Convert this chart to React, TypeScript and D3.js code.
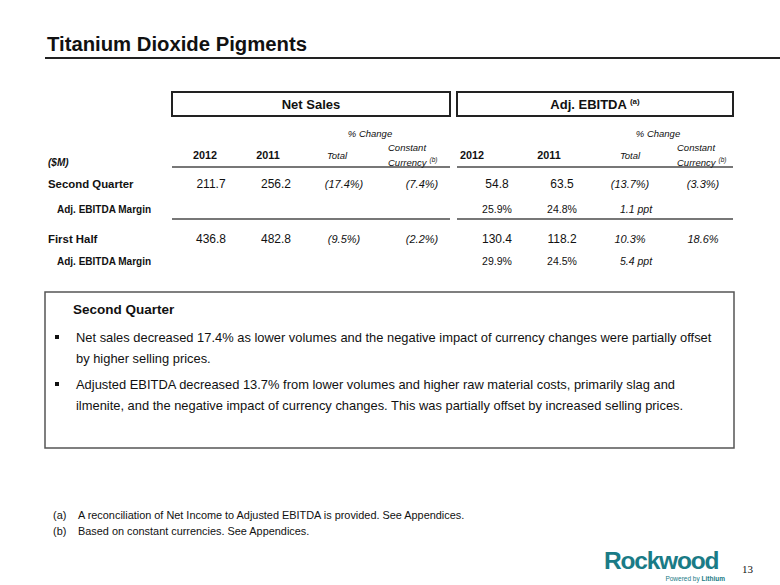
import React from "react";
import * as d3 from "d3";

const rowLabels = ["Second Quarter", "Adj. EBITDA Margin", "First Half", "Adj. EBITDA Margin"];
const rowKinds = ["main", "sub", "main", "sub"];
const netSales2012 = ["211.7", "", "436.8", ""];
const netSales2011 = ["256.2", "", "482.8", ""];
const netSalesTotal = ["(17.4%)", "", "(9.5%)", ""];
const netSalesConst = ["(7.4%)", "", "(2.2%)", ""];
const ebitda2012 = ["54.8", "25.9%", "130.4", "29.9%"];
const ebitda2011 = ["63.5", "24.8%", "118.2", "24.5%"];
const ebitdaTotal = ["(13.7%)", "1.1 ppt", "10.3%", "5.4 ppt"];
const ebitdaConst = ["(3.3%)", "", "18.6%", ""];

const bullets = [
  ["Net sales decreased 17.4% as lower volumes and the negative impact of currency changes were partially offset", "by higher selling prices."],
  ["Adjusted EBITDA decreased 13.7% from lower volumes and higher raw material costs, primarily slag and", "ilmenite, and the negative impact of currency changes.  This was partially offset by increased selling prices."],
];
const footnotes = [
  ["(a)", "A reconciliation of Net Income to Adjusted EBITDA is provided. See Appendices."],
  ["(b)", "Based on constant currencies. See Appendices."],
];

const FONT = "Liberation Sans, Arial, sans-serif";

export default function App() {
  const colKeys = ["ns2012", "ns2011", "nsTot", "nsCc", "eb2012", "eb2011", "ebTot", "ebCc"];
  const valueX = d3.scaleOrdinal<string, number>().domain(colKeys).range([211, 276, 344, 422, 497, 562, 630, 703]);
  const headX = d3.scaleOrdinal<string, number>().domain(colKeys).range([205, 268, 337, 388, 472, 549, 630, 677]);
  const rowYs = [188, 213, 243, 265];
  const cols: [string, string[]][] = [
    ["ns2012", netSales2012], ["ns2011", netSales2011], ["nsTot", netSalesTotal], ["nsCc", netSalesConst],
    ["eb2012", ebitda2012], ["eb2011", ebitda2011], ["ebTot", ebitdaTotal], ["ebCc", ebitdaConst],
  ];
  const italicCols = new Set(["nsTot", "nsCc", "ebTot", "ebCc"]);
  const groups = [
    { x0: 172, x1: 450, title: "Net Sales", sup: "" },
    { x0: 457, x1: 733, title: "Adj. EBITDA", sup: "(a)" },
  ];
  const bulletY = d3.scaleLinear().domain([0, 1]).range([342, 363]);
  const bulletGap = 47;

  return (
    <svg width={780} height={585} style={{ position: "absolute", left: 0, top: 0, background: "#fff" }} fontFamily={FONT}>
      <text x={47} y={51} fontSize={20.3} fontWeight="bold" fill="#111">Titanium Dioxide Pigments</text>
      <line x1={45} x2={780} y1={58} y2={58} stroke="#222" strokeWidth={2} />

      {groups.map((g, i) => (
        <g key={i}>
          <rect x={g.x0 + 1} y={93} width={g.x1 - g.x0} height={24} fill="#bbb" />
          <rect x={g.x0} y={92} width={g.x1 - g.x0} height={24} fill="#fff" stroke="#222" strokeWidth={2} />
          <text x={(g.x0 + g.x1) / 2} y={109} textAnchor="middle" fontSize={13} fontWeight="bold" fill="#111">
            {g.title}
            {g.sup && <tspan dx={3} dy={-5} fontSize={8}>{g.sup}</tspan>}
          </text>
          <line x1={g.x0} x2={g.x1} y1={167} y2={167} stroke="#777" strokeWidth={2} />
          <line x1={g.x0} x2={g.x1} y1={219} y2={219} stroke="#777" strokeWidth={2} />
        </g>
      ))}

      <text x={370} y={137} textAnchor="middle" fontSize={9.5} fontStyle="italic" fill="#111">% Change</text>
      <text x={658} y={137} textAnchor="middle" fontSize={9.5} fontStyle="italic" fill="#111">% Change</text>
      <text x={48} y={166} fontSize={10} fontWeight="bold" fontStyle="italic" fill="#111">($M)</text>
      {[["ns2012", "2012"], ["ns2011", "2011"], ["eb2012", "2012"], ["eb2011", "2011"]].map(([k, t]) => (
        <text key={k} x={headX(k)} y={159} textAnchor="middle" fontSize={10.8} fontWeight="bold" fill="#111">{t}</text>
      ))}
      {["nsTot", "ebTot"].map((k) => (
        <text key={k} x={headX(k)} y={159} textAnchor="middle" fontSize={9.5} fontStyle="italic" fill="#111">Total</text>
      ))}
      {["nsCc", "ebCc"].map((k) => (
        <g key={k}>
          <text x={headX(k)} y={151} fontSize={9.5} fontStyle="italic" fill="#111">Constant</text>
          <text x={headX(k)} y={166} fontSize={9.5} fontStyle="italic" fill="#111">
            Currency<tspan dx={3} dy={-4} fontSize={6.5}>(b)</tspan>
          </text>
        </g>
      ))}

      {rowLabels.map((r, i) => (
        <text key={i} x={rowKinds[i] === "main" ? 48 : 57} y={rowYs[i]} fontSize={rowKinds[i] === "main" ? 11.4 : 10} fontWeight="bold" fill="#111">{r}</text>
      ))}
      {cols.map(([k, vals]) =>
        vals.map((v, i) =>
          v ? (
            <text key={k + i} x={valueX(k) + (v.includes("ppt") ? 6 : 0)} y={rowYs[i]} textAnchor="middle"
              fontSize={rowKinds[i] === "main" ? (italicCols.has(k) ? 11 : 12) : 10.5}
              fontStyle={italicCols.has(k) ? "italic" : "normal"} fill="#111">{v}</text>
          ) : null
        )
      )}

      <rect x={45} y={292} width={689} height={156} fill="#fff" stroke="#555" strokeWidth={1.5} />
      <text x={73} y={314} fontSize={13.5} fontWeight="bold" fill="#111">Second Quarter</text>
      {bullets.map((lines, bi) => (
        <g key={bi}>
          <rect x={55} y={bulletY(0) + bi * bulletGap - 7} width={4} height={4} fill="#111" />
          {lines.map((l, li) => (
            <text key={li} x={76} y={bulletY(li) + bi * bulletGap} fontSize={12.9} fill="#111">{l}</text>
          ))}
        </g>
      ))}

      {footnotes.map(([a, t], i) => (
        <g key={i}>
          <text x={53} y={519 + i * 16} fontSize={10.9} fill="#111">{a}</text>
          <text x={78} y={519 + i * 16} fontSize={10.9} fill="#111">{t}</text>
        </g>
      ))}

      <text x={604} y={569} fontSize={24.5} fontWeight="bold" fill="#1a7b86" letterSpacing={-1.2}>Rockwood</text>
      <text x={725} y={581} textAnchor="end" fontSize={6.5} fill="#1a7b86">
        Powered by <tspan fontWeight="bold">Lithium</tspan>
      </text>
      <text x={742} y={573} fontSize={11} fontFamily="Liberation Serif, Times New Roman, serif" fill="#111">13</text>
    </svg>
  );
}
